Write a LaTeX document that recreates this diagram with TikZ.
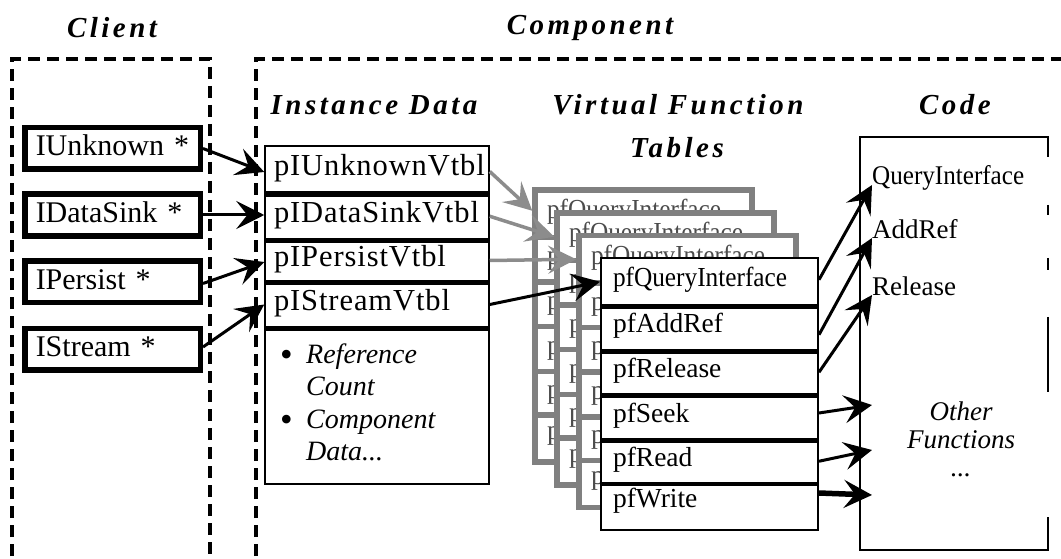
\documentclass[tikz,border=0pt]{standalone}
\usepackage{fontspec}
\usepackage{graphicx}
\setmainfont{Liberation Serif}
\newfontfamily\titlefont[LetterSpace=12]{Liberation Serif}
\newfontfamily\wideserif[LetterSpace=3]{Liberation Serif}
\usetikzlibrary{arrows.meta}

\tikzset{
  titletext/.style={font=\titlefont\bfseries\itshape\fontsize{29}{34}\selectfont, inner sep=0pt},
  dashedline/.style={line width=3.5pt, dash pattern=on 12pt off 7pt},
  clientbox/.style={draw, line width=5.5pt, minimum height=41.5pt, text width=153.5pt,
    inner xsep=11pt, inner ysep=0pt, align=left, font=\fontsize{30}{32}\selectfont,
    text height=21pt, text depth=6pt},
  instrow/.style={draw, line width=1.5pt, fill=white, text width=206pt, inner xsep=9pt,
    inner ysep=0pt, align=left, font=\wideserif\fontsize{30.5}{32}\selectfont,
    text height=20pt, text depth=8pt},
  frontrow/.style={draw, line width=2pt, fill=white, text width=193pt, inner xsep=12pt,
    inner ysep=0pt, align=left, font=\fontsize{27.5}{30}\selectfont,
    text height=19pt, text depth=9pt},
  grayrow/.style={frontrow, draw=black!50, line width=5.5pt, text=black!70},
  sepline/.style={line width=5pt},
  arr/.style={line width=3pt, -{Stealth[length=28pt,width=28pt,inset=11pt]}},
  garr/.style={arr, line width=3.5pt, color=black!45},
  codetxt/.style={inner sep=0pt, font=\fontsize{27}{29}\selectfont},
  datatxt/.style={inner sep=0pt, font=\itshape\fontsize{28}{30}\selectfont},
  bullettxt/.style={inner sep=0pt, font=\fontsize{36}{30}\selectfont},
}

% front table: all row texts
\newcommand\drawfronttable[2]{%
  \node[#2, minimum height=47.5pt] (#1-q) at (108.5,23.75) {\scalebox{0.92}[1]{pfQueryInterface}};
  \node[#2, minimum height=44.5pt] (#1-a) at (108.5,69.75) {pfAddRef};
  \node[#2, minimum height=44.5pt] (#1-r) at (108.5,114.25) {pfRelease};
  \node[#2, minimum height=45pt] (#1-s) at (108.5,159) {pfSeek};
  \node[#2, minimum height=43.5pt] (#1-d) at (108.5,203.25) {pfRead};
  \node[#2, minimum height=47pt, text depth=18pt] (#1-w) at (108.5,248.5) {pfWrite};
}
% back tables: only the parts that stay visible
\newcommand\drawbacktable[2]{%
  \node[#2, minimum height=47.5pt] (#1-q) at (108.5,23.75) {\scalebox{0.92}[1]{pfQueryInterface}};
  \node[#2, minimum height=44.5pt] (#1-a) at (108.5,69.75) {p};
  \node[#2, minimum height=44.5pt] (#1-r) at (108.5,114.25) {p};
  \node[#2, minimum height=45pt] (#1-s) at (108.5,159) {p};
  \node[#2, minimum height=43.5pt] (#1-d) at (108.5,203.25) {p};
  \node[#2, minimum height=47pt, text depth=18pt] (#1-w) at (108.5,248.5) {p};
}

\begin{document}
\begin{tikzpicture}[x=1pt,y=-1pt]
\useasboundingbox (0,0) rectangle (1061,559);

% section titles
\node[titletext] (tclient) at (112,28) {Client};
\node[titletext] (tcomp) at (590,28) {Component};
\node[titletext] (tinst) at (374,105) {Instance Data};
\node[titletext] (tvft) at (678,105) {Virtual Function};
\node[titletext] (ttab) at (677,148) {Tables};
\node[titletext] (tcode) at (955,105) {Code};

% dashed regions
\draw[dashedline] (12,575) -- (12,59) -- (210,59) -- (210,575);
\draw[dashedline] (256,575) -- (256,59) -- (1075,59);

% client pointers
\node[clientbox] (iu) at (112.5,148.5) {IUnknown *};
\node[clientbox] (id) at (112.5,215) {IDataSink *};
\node[clientbox] (ip) at (112.5,281.5) {IPersist *};
\node[clientbox] (is) at (112.5,349) {IStream *};

% instance data
\node[instrow, minimum height=47pt] (ipu) at (377,169.5) {pIUnknownVtbl};
\node[instrow, minimum height=46.5pt] (ipd) at (377,216.25) {pIDataSinkVtbl};
\node[instrow, minimum height=42pt] (ipp) at (377,260.5) {pIPersistVtbl};
\node[instrow, minimum height=46pt] (ips) at (377,304.5) {pIStreamVtbl};
\node[instrow, minimum height=156.5pt] (idata) at (377,405.75) {};
\draw[sepline, line width=6pt] (ipu.south west) -- (ipu.south east);
\draw[sepline] (ipd.south west) -- (ipd.south east);
\draw[sepline] (ipp.south west) -- (ipp.south east);
\draw[sepline] (ips.south west) -- (ips.south east);
\node[bullettxt, anchor=base west] (b1) at (280,366) {\textbullet};
\node[datatxt, anchor=base west] (d1) at (306,363) {Reference};
\node[datatxt, anchor=base west] (d2) at (306,395) {Count};
\node[bullettxt, anchor=base west] (b2) at (280,431) {\textbullet};
\node[datatxt, anchor=base west] (d3) at (306,428) {Component};
\node[datatxt, anchor=base west] (d4) at (306,460) {Data...};

% stacked virtual function tables
\foreach \k/\gx/\gy in {1/535/190, 2/557/213, 3/579/235.5}{
  \begin{scope}[shift={(\gx,\gy)}]
    \drawbacktable{g\k}{grayrow}
  \end{scope}
}
\begin{scope}[shift={(601,258)}]
  \drawfronttable{f}{frontrow}
\end{scope}
\foreach \n in {q,a,r,s}{
  \draw[sepline] (f-\n.south west) -- (f-\n.south east);
}
\draw[line width=3pt] (f-d.south west) -- (f-d.south east);

% code box
\node[minimum width=188pt, minimum height=413pt, inner sep=0pt] (code) at (954,343.5) {};
\draw[line width=2pt] ([yshift=-20pt]code.north east) -- (code.north east) -- (code.north west)
  -- (code.south west) -- (code.south east) -- ([yshift=33pt]code.south east);
\draw[line width=2pt] ([yshift=-68pt]code.north east) -- ([yshift=-78pt]code.north east);
\draw[line width=2pt] ([yshift=-121pt]code.north east) -- ([yshift=-133pt]code.north east);
\draw[line width=2pt] ([yshift=-180pt]code.north east) -- ([yshift=-255pt]code.north east);
\node[codetxt, anchor=base west] (cqi) at (872,185) {\scalebox{0.93}[1]{QueryInterface}};
\node[codetxt, anchor=base west] (car) at (872,238) {AddRef};
\node[codetxt, anchor=base west] (crl) at (872,295) {Release};
\node[codetxt, font=\itshape\fontsize{27}{28}\selectfont, align=center, anchor=north] (oth) at (961,401.5) {Other\\Functions\\...};
\coordinate (tseek) at (872,405);
\coordinate (tread) at (872,450);
\coordinate (twrite) at (872,495);

% connectors client -> instance
\draw[arr] (iu.east) -- ([yshift=-2.5pt]ipu.west);
\draw[arr] (id.east) -- (id.east -| ipd.west);
\draw[arr] ([yshift=-2pt]ip.east) -- ([yshift=-1.5pt]ipp.west);
\draw[arr] ([yshift=2pt]is.east) -- (ips.west);

% instance -> tables
\draw[garr] ([yshift=-2pt]ipu.east) -- ([yshift=3pt]g1-q.west);
\draw[garr] (ipd.east) -- (g2-q.west);
\draw[garr] (ipp.east) -- (g3-q.west);
\draw[arr] (ips.east) -- (f-q.west);

% tables -> code
\draw[arr] ([yshift=2pt]f-q.east) -- (cqi.base west);
\draw[arr] ([yshift=-7pt]f-a.east) -- (car.base west);
\draw[arr] (f-r.east) -- (crl.base west);
\draw[arr] ([yshift=4pt]f-s.east) -- (tseek);
\draw[arr] (f-d.east) -- (tread);
\draw[arr, line width=5.5pt] ([yshift=13.5pt]f-w.east) -- (twrite);
\end{tikzpicture}
\end{document}
